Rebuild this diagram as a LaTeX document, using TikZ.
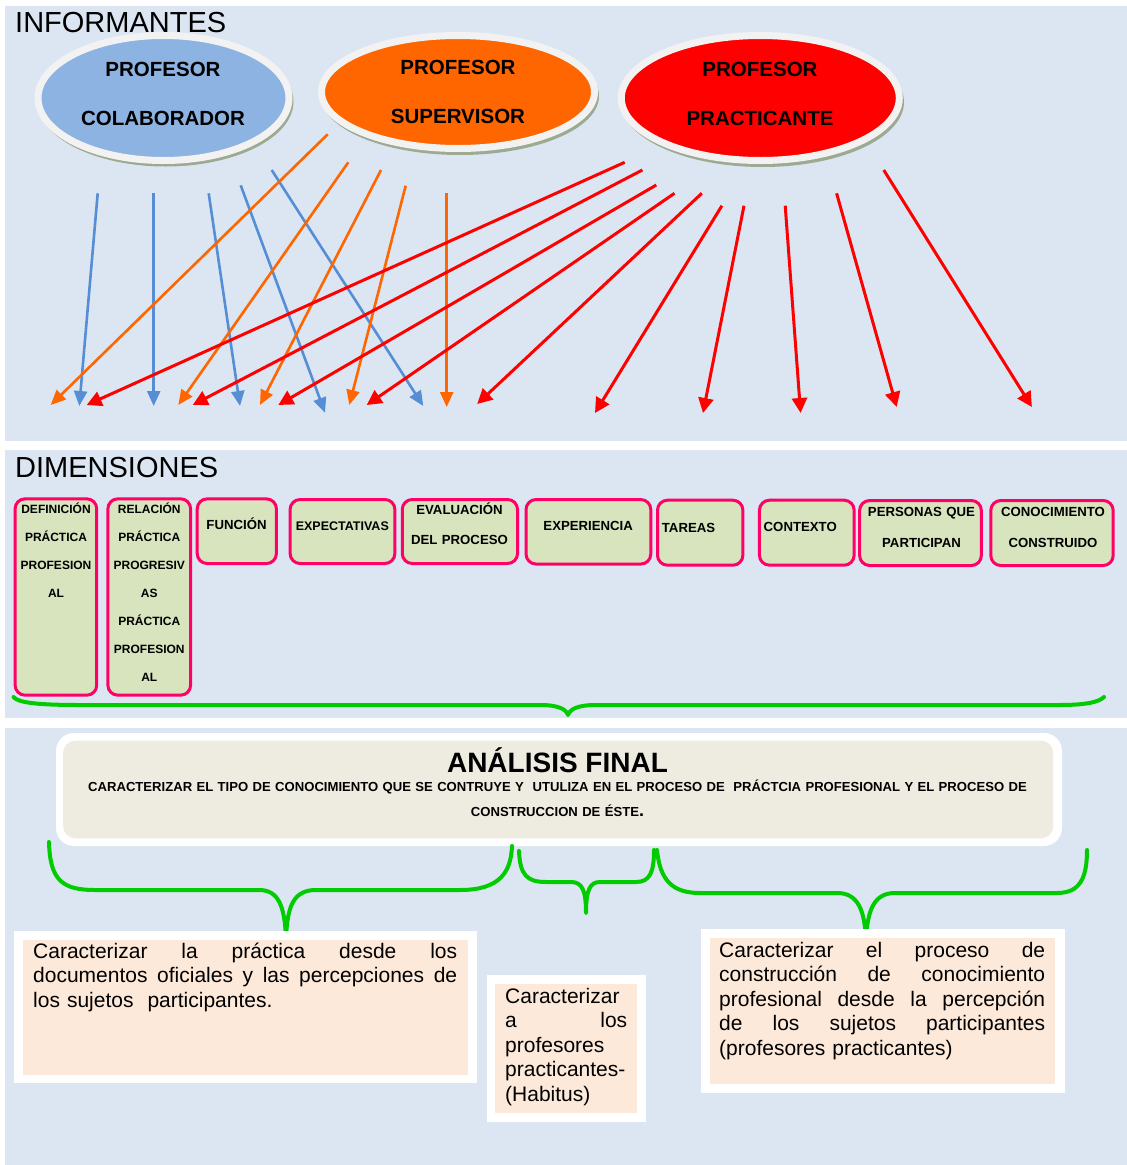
\documentclass[tikz,border=0pt]{standalone}
\usepackage{fontspec}
\setmainfont{Liberation Sans}
\usetikzlibrary{arrows.meta,shapes.geometric}
\definecolor{bgblue}{HTML}{DCE6F2}
\definecolor{ellblue}{HTML}{8DB3E2}
\definecolor{ellorange}{HTML}{FF6600}
\definecolor{ellred}{HTML}{FF0000}
\definecolor{arrblue}{HTML}{558ED5}
\definecolor{rimwhite}{HTML}{F2F2F2}
\definecolor{shadowgray}{HTML}{9DAA92}
\definecolor{dimfill}{HTML}{D7E4BD}
\definecolor{dimborder}{HTML}{FF0066}
\definecolor{beige}{HTML}{EEECE1}
\definecolor{peach}{HTML}{FDE9D9}
\definecolor{bracegreen}{HTML}{00CC00}
\newcommand{\jline}[2]{\leavevmode\hbox to #1{#2}}
\begin{document}
\begin{tikzpicture}[x=1pt,y=-1pt,
  band/.style={fill=bgblue},
  informant/.style={ellipse, draw=rimwhite, line width=7pt, inner sep=0pt},
  ellshadow/.style={ellipse, fill=shadowgray, inner sep=0pt},
  elltext/.style={font=\fontsize{20.5}{49}\selectfont\bfseries, text width=250pt, align=center, anchor=base, inner sep=0pt},
  heading/.style={font=\fontsize{29}{34}\selectfont, anchor=base west, inner sep=0pt},
  barrow/.style={draw=arrblue, line width=2.6pt, -{Triangle[length=15pt,width=13pt]}},
  oarrow/.style={draw=ellorange, line width=2.6pt, -{Triangle[length=15pt,width=13pt]}},
  rarrow/.style={draw=ellred, line width=3pt, -{Triangle[length=15pt,width=15pt]}},
  dimbox/.style={rectangle, rounded corners=10pt, draw=dimborder, line width=3pt, fill=dimfill, inner sep=0pt},
  dimtext/.style={font=\fontsize{12}{28}\selectfont\bfseries, text width=110pt, align=center, anchor=base, inner sep=0pt},
  dimtextbig/.style={dimtext, font=\fontsize{13.2}{#1}\selectfont\bfseries},
  greenbrace/.style={draw=bracegreen, line width=4pt, line cap=round, line join=round},
  txtbox/.style={rectangle, inner sep=0pt},
  bodytext/.style={font=\fontsize{21}{24.5}\selectfont, align=left, anchor=base west, inner sep=0pt}
]
\useasboundingbox (0,0) rectangle (1127,1165);
\fill[white] (0,0) rectangle (1127,1165);
\fill[band] (5,6) rectangle (1127,441);
\fill[band] (5,450) rectangle (1127,718);
\fill[band] (5,728) rectangle (1127,1165);

% ---------- INFORMANTES ----------
\node[heading] (informantes) at (15,32.7) {INFORMANTES};

\node[ellshadow, minimum width=256pt, minimum height=130pt] (colabsh) at (165.5,101.5) {};
\node[informant, fill=ellblue, minimum width=251pt, minimum height=125pt] (colab) at (163.5,98) {};
\node[elltext] (colabtxt) at (163,76) {PROFESOR\\COLABORADOR};

\node[ellshadow, minimum width=278pt, minimum height=118pt] (supsh) at (460,96) {};
\node[informant, fill=ellorange, minimum width=273pt, minimum height=113pt] (sup) at (458,92) {};
\node[elltext] (suptxt) at (458,74) {PROFESOR\\SUPERVISOR};

\node[ellshadow, minimum width=283pt, minimum height=130pt] (pracsh) at (762.5,102) {};
\node[informant, fill=ellred, minimum width=278pt, minimum height=125pt] (prac) at (760.3,98) {};
\node[elltext] (practxt) at (760,76) {PROFESOR\\PRACTICANTE};

% blue arrows (profesor colaborador)
\foreach \i/\sx/\sy/\ex/\ey in {1/97.7/193.3/79.3/406, 2/153.7/193.3/153.7/406, 3/208.7/193.3/240/406, 4/240.7/185.3/325/412.7, 5/271.7/170/423.3/406}{
  \coordinate (bs\i) at (\sx,\sy);
  \coordinate (be\i) at (\ex,\ey);
  \draw[barrow] (bs\i) -- (be\i);
}
% orange arrows (profesor supervisor)
\foreach \i/\sx/\sy/\ex/\ey in {1/327.7/134.3/50.7/405, 2/348.3/162.3/178.3/405, 3/381/170/260/405, 4/405.7/185.7/349.3/405, 5/446.7/193.3/446.7/407}{
  \coordinate (os\i) at (\sx,\sy);
  \coordinate (oe\i) at (\ex,\ey);
  \draw[oarrow] (os\i) -- (oe\i);
}
% red arrows (profesor practicante)
\foreach \i/\sx/\sy/\ex/\ey in {1/624.7/162.3/86.7/405, 2/642.4/170/192.7/405, 3/656.3/185/278.3/405, 4/674.5/193.3/366.7/405, 5/701.8/193.3/477.2/404, 6/721.9/205.7/595/413, 7/744/205.7/703/413, 8/785.2/205.7/800.6/413, 9/836.6/193.3/896.7/407, 10/883.7/170/1031.9/407}{
  \coordinate (rs\i) at (\sx,\sy);
  \coordinate (re\i) at (\ex,\ey);
  \draw[rarrow] (rs\i) -- (re\i);
}

% ---------- DIMENSIONES ----------
\node[heading] (dimensiones) at (15,477.7) {DIMENSIONES};

\node[dimbox, minimum width=81.6pt, minimum height=196.4pt] (d1) at (55.9,597) {};
\node[dimbox, minimum width=82.7pt, minimum height=196.4pt] (d2) at (149.25,597) {};
\node[dimbox, minimum width=79.2pt, minimum height=64.7pt] (d3) at (236.8,531.2) {};
\node[dimbox, minimum width=104.8pt, minimum height=64pt] (d4) at (342.5,531.5) {};
\node[dimbox, minimum width=115.3pt, minimum height=64pt] (d5) at (459.9,531.5) {};
\node[dimbox, minimum width=124.8pt, minimum height=64.5pt] (d6) at (588.4,531.8) {};
\node[dimbox, minimum width=85.4pt, minimum height=65pt] (d7) at (700.2,532.7) {};
\node[dimbox, minimum width=94.7pt, minimum height=65pt] (d8) at (806.8,532.7) {};
\node[dimbox, minimum width=121.7pt, minimum height=65pt] (d9) at (920.5,533) {};
\node[dimbox, minimum width=122.4pt, minimum height=65pt] (d10) at (1052,533) {};

\node[dimtext] (t1) at (56,513.5) {DEFINICIÓN\\PRÁCTICA\\PROFESION\\AL};
\node[dimtext] (t2) at (149.3,513.5) {RELACIÓN\\PRÁCTICA\\PROGRESIV\\AS\\PRÁCTICA\\PROFESION\\AL};
\node[dimtextbig=28] (t3) at (236.5,529) {FUNCIÓN};
\node[dimtext, font=\fontsize{12.5}{28}\selectfont\bfseries] (t4) at (342.3,530) {EXPECTATIVAS};
\node[dimtextbig=30] (t5) at (459.5,514.5) {EVALUACIÓN\\DEL PROCESO};
\node[dimtextbig=28] (t6) at (588.2,530.5) {EXPERIENCIA};
\node[dimtextbig=28, align=left, anchor=base west] (t7) at (661.7,532.5) {TAREAS};
\node[dimtextbig=28, align=left, anchor=base west] (t8) at (763.5,531.5) {CONTEXTO};
\node[dimtextbig=31] (t9) at (921.5,516.5) {PERSONAS QUE\\PARTICIPAN};
\node[dimtextbig=31] (t10) at (1053,516.5) {CONOCIMIENTO\\CONSTRUIDO};

\draw[greenbrace] (13.5,697) .. controls (18,703) and (40,705) .. (80,705) -- (540,705)
  .. controls (558,705) and (566,709) .. (568,715) .. controls (570,709) and (578,705) .. (596,705)
  -- (1060,705) .. controls (1090,705) and (1100,701) .. (1104,697);

% ---------- ANALISIS FINAL ----------
\node[txtbox, fill=white, rounded corners=18pt, minimum width=1006pt, minimum height=113pt] (afouter) at (559,789.5) {};
\node[txtbox, fill=beige, rounded corners=12pt, minimum width=990pt, minimum height=97.6pt] (afinner) at (558.2,789.5) {};
\node[font=\fontsize{28}{32}\selectfont\bfseries, anchor=base, inner sep=0pt] (aftitle) at (557.5,772.7) {ANÁLISIS FINAL};
\node[font=\fontsize{13.1}{25}\selectfont\bfseries, text width=1000pt, align=center, anchor=base, inner sep=0pt] (afsub) at (557.5,791.7)
  {CARACTERIZAR EL TIPO DE CONOCIMIENTO QUE SE CONTRUYE Y \ UTULIZA EN EL PROCESO DE \ PRÁCTCIA PROFESIONAL Y EL PROCESO DE\\CONSTRUCCION DE ÉSTE{\fontsize{18}{18}\selectfont.}};

\draw[greenbrace] (49,842) .. controls (50,880) and (62,890) .. (95,890) -- (259,890)
  .. controls (278,890) and (285,905) .. (286,940) .. controls (287,905) and (294,890) .. (316,890)
  -- (460,890) .. controls (500,890) and (511,872) .. (512,846);
\draw[greenbrace] (519,851) .. controls (520,875) and (527,882) .. (546,882) -- (571,882)
  .. controls (582,882) and (586,890) .. (586,913) .. controls (586,890) and (590,882) .. (600,882)
  -- (636,882) .. controls (650,882) and (654,872) .. (654,850);
\draw[greenbrace] (657,850) .. controls (660,880) and (672,893) .. (700,893) -- (837,893)
  .. controls (858,893) and (865,910) .. (866,942) .. controls (867,910) and (874,893) .. (895,893)
  -- (1057,893) .. controls (1080,893) and (1087,878) .. (1087,850);

% ---------- bottom boxes ----------
\node[txtbox, fill=white, minimum width=462.2pt, minimum height=151.7pt] (ob1) at (245.5,1006.85) {};
\node[txtbox, fill=peach, minimum width=445pt, minimum height=135pt] (ib1) at (245.5,1007.5) {};
\node[bodytext, text width=424pt] (bt1) at (33,958.3)
  {\jline{424pt}{Caracterizar\hfill la\hfill práctica\hfill desde\hfill los}\\
   \jline{424pt}{documentos\hfill oficiales\hfill y\hfill las\hfill percepciones\hfill de}\\
   los sujetos \ participantes.};

\node[txtbox, fill=white, minimum width=158.9pt, minimum height=146.7pt] (ob2) at (566.15,1048.35) {};
\node[txtbox, fill=peach, minimum width=141.7pt, minimum height=128.7pt] (ib2) at (566.15,1048.35) {};
\node[bodytext, text width=122pt] (bt2) at (505,1003)
  {Caracterizar\\\jline{122pt}{a\hfill los}\\profesores\\practicantes-\\(Habitus)};

\node[txtbox, fill=white, minimum width=363.7pt, minimum height=164pt] (ob3) at (882.85,1011.3) {};
\node[txtbox, fill=peach, minimum width=345.1pt, minimum height=146.6pt] (ib3) at (882.85,1011) {};
\node[bodytext, text width=326pt] (bt3) at (719,957.3)
  {\jline{326pt}{Caracterizar\hfill el\hfill proceso\hfill de}\\
   \jline{326pt}{construcción\hfill de\hfill conocimiento}\\
   \jline{326pt}{profesional\hfill desde\hfill la\hfill percepción}\\
   \jline{326pt}{de\hfill los\hfill sujetos\hfill participantes}\\
   (profesores practicantes)};
\end{tikzpicture}
\end{document}
